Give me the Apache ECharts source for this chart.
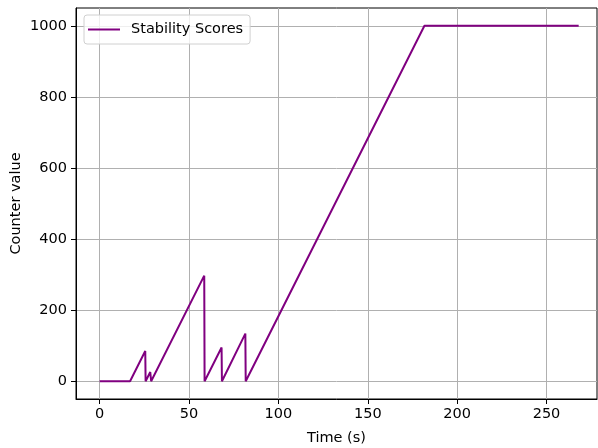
<!DOCTYPE html>
<html><head><meta charset="utf-8">
<script src="https://cdn.jsdelivr.net/npm/echarts@6/dist/echarts.min.js"></script>
<style>html,body{margin:0;padding:0;background:#fff}#c{width:598px;height:448px}</style>
</head><body><div id="c"></div>
<script>
const times = [0, 17, 25.5, 25.7, 28.3, 28.8, 58.5, 58.7, 68.2, 68.4, 81.5, 81.7, 181.7, 268];
const scores = [0, 0, 85, 0, 26, 0, 297, 0, 95, 0, 134, 0, 1000, 1000];
const xTicks = [0, 50, 100, 150, 200, 250];
const yTicks = [0, 200, 400, 600, 800, 1000];
const seriesName = 'Stability Scores';

const font = 'DejaVu Sans';
const fs = 14.5;
const chart = echarts.init(document.getElementById('c'), null, {renderer: 'canvas'});
chart.setOption({
  animation: false,
  backgroundColor: '#fff',
  grid: {left: 76, right: 1, top: 8, bottom: 49, outerBoundsMode: 'none', containLabel: false,
         show: true, borderColor: '#000', borderWidth: 1, backgroundColor: 'transparent'},
  legend: {
    left: 84, top: 15, padding: [7, 7, 7, 4],
    borderColor: '#d0d0d0', borderWidth: 1, borderRadius: 3, backgroundColor: 'rgba(255,255,255,0.8)',
    icon: 'rect', itemWidth: 32, itemHeight: 2, itemGap: 10,
    textStyle: {fontFamily: font, fontSize: fs, color: '#000', padding: [0, 0, 0, 6]},
    data: [seriesName]
  },
  xAxis: {
    type: 'value', min: -13.25, max: 278.25,
    name: 'Time (s)', nameLocation: 'middle', nameGap: 32,
    nameTextStyle: {fontFamily: font, fontSize: fs, color: '#000'},
    axisLine: {show: true, onZero: false, lineStyle: {color: '#000', width: 1}},
    axisTick: {show: true, inside: false, length: 5, customValues: xTicks, lineStyle: {color: '#000'}},
    axisLabel: {customValues: xTicks, margin: 8, fontFamily: font, fontSize: fs, color: '#000', formatter: v => String(v)},
    splitLine: {show: true, lineStyle: {color: '#b0b0b0', width: 1}}
  },
  yAxis: {
    type: 'value', min: -50, max: 1050,
    name: 'Counter value', nameLocation: 'middle', nameGap: 52, nameMoveOverlap: false,
    nameTextStyle: {fontFamily: font, fontSize: fs, color: '#000'},
    axisLine: {show: true, onZero: false, lineStyle: {color: '#000', width: 1}},
    axisTick: {show: true, inside: false, length: 5, customValues: yTicks, lineStyle: {color: '#000'}},
    axisLabel: {customValues: yTicks, margin: 9, fontFamily: font, fontSize: fs, color: '#000', formatter: v => String(v)},
    splitLine: {show: true, lineStyle: {color: '#b0b0b0', width: 1}}
  },
  series: [{
    name: seriesName, type: 'line', symbol: 'none',
    data: times.map((t, i) => [t, scores[i]]),
    lineStyle: {color: '#800080', width: 2}, itemStyle: {color: '#800080'}
  }]
});
</script></body></html>
